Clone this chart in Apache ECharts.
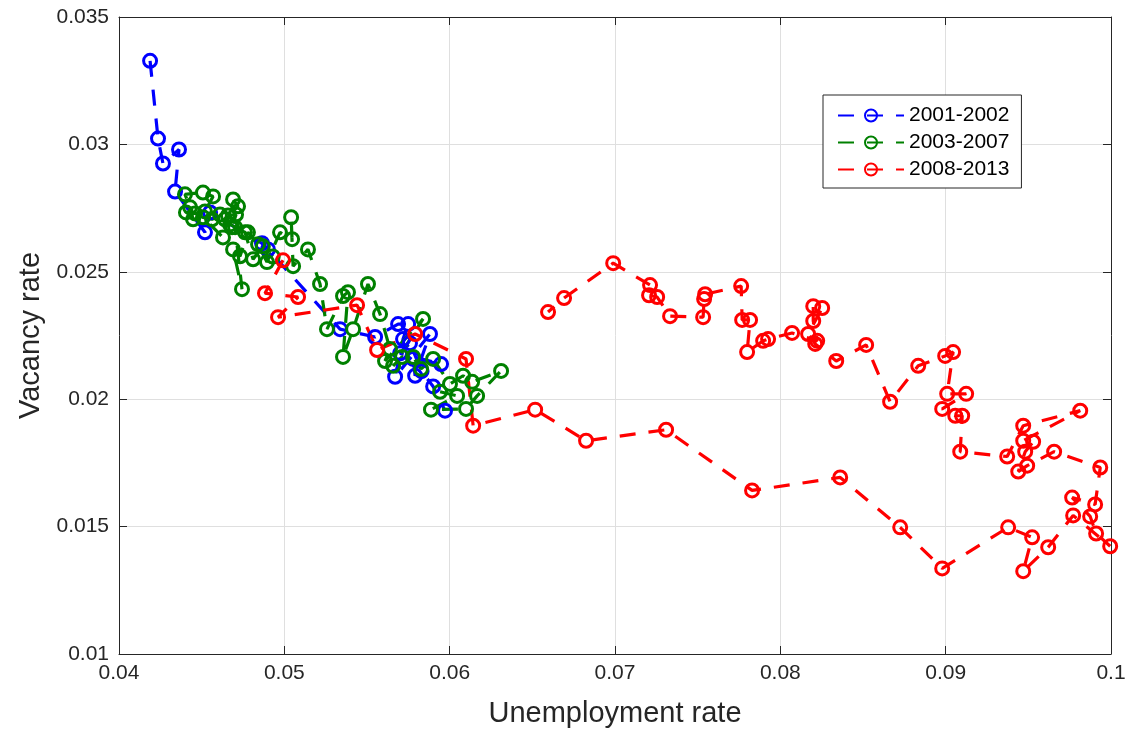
<!DOCTYPE html>
<html>
<head>
<meta charset="utf-8">
<title>Beveridge curve</title>
<script src="https://cdn.jsdelivr.net/npm/echarts@6/dist/echarts.min.js"></script>
<style>
  html, body { margin: 0; padding: 0; background: #fff; }
  #chart { width: 1130px; height: 733px; }
</style>
</head>
<body>
<div id="chart"></div>
<script>
// Monthly unemployment rate (x) and vacancy rate (y), grouped by period.
const periods = ['2001-2002', '2003-2007', '2008-2013'];

const blueU = [0.04188, 0.04236, 0.04266, 0.04363, 0.04339, 0.04520, 0.04551, 0.04865, 0.04901, 0.05337, 0.05549, 0.05688,
               0.05749, 0.05718, 0.05670, 0.05881, 0.05791, 0.05779, 0.05948, 0.05700, 0.05760, 0.05830, 0.05900, 0.05972];
const blueV = [0.03328, 0.03023, 0.02925, 0.02980, 0.02815, 0.02655, 0.02733, 0.02612, 0.02588, 0.02275, 0.02244, 0.02295,
               0.02295, 0.02236, 0.02088, 0.02256, 0.02092, 0.02158, 0.02138, 0.02180, 0.02220, 0.02110, 0.02050, 0.01955];

const greenU = [0.05942, 0.06045, 0.05887, 0.06099, 0.06166, 0.06311, 0.06136, 0.06081, 0.06002, 0.05900, 0.05827, 0.05779,
                0.05712, 0.05658, 0.05839, 0.05609, 0.05639, 0.05579, 0.05506, 0.05416, 0.05355, 0.05385, 0.05355, 0.05258,
                0.05216, 0.05143, 0.05053, 0.05041, 0.05047, 0.04974, 0.04895, 0.04841, 0.04780, 0.04732, 0.04690, 0.04744,
                0.04702, 0.04672, 0.04641, 0.04720, 0.04690, 0.04629, 0.04508, 0.04448, 0.04430, 0.04399, 0.04508, 0.04569,
                0.04520, 0.04460, 0.04405, 0.04563, 0.04611, 0.04659, 0.04708, 0.04684, 0.04762, 0.04811, 0.04870, 0.04930];
const greenV = [0.02029, 0.02013, 0.01959, 0.01962, 0.02013, 0.02111, 0.02068, 0.02092, 0.02060, 0.02158, 0.02119, 0.02166,
                0.02166, 0.02131, 0.02315, 0.02150, 0.02197, 0.02334, 0.02452, 0.02275, 0.02166, 0.02420, 0.02405, 0.02275,
                0.02452, 0.02588, 0.02522, 0.02714, 0.02628, 0.02655, 0.02538, 0.02608, 0.02655, 0.02561, 0.02588, 0.02432,
                0.02675, 0.02686, 0.02706, 0.02757, 0.02784, 0.02635, 0.02714, 0.02706, 0.02753, 0.02804, 0.02811, 0.02796,
                0.02737, 0.02729, 0.02733, 0.02706, 0.02725, 0.02721, 0.02725, 0.02675, 0.02655, 0.02549, 0.02600, 0.02560];

const redU = [0.04992, 0.04883, 0.05083, 0.04962, 0.05440, 0.05561, 0.05791, 0.06099, 0.06142, 0.06517, 0.06825, 0.07309,
              0.07829, 0.08362, 0.08725, 0.08979, 0.09378, 0.09523, 0.09469, 0.09620, 0.09771, 0.09995, 0.09910, 0.09874,
              0.09765, 0.09904, 0.09935, 0.09656, 0.09493, 0.09439, 0.09481, 0.09529, 0.09469, 0.09814, 0.09469, 0.09372,
              0.09088, 0.09100, 0.09058, 0.08979, 0.09124, 0.09009, 0.09045, 0.08997, 0.08834, 0.08664, 0.08519, 0.08338,
              0.08211, 0.08168, 0.08253, 0.08199, 0.08199, 0.08223, 0.08071, 0.07926, 0.07896, 0.07799, 0.07817, 0.07769,
              0.07763, 0.07545, 0.07539, 0.07533, 0.07333, 0.07255, 0.07206, 0.07212, 0.06989, 0.06692, 0.06595];
const redV = [0.02545, 0.02416, 0.02401, 0.02322, 0.02369, 0.02193, 0.02256, 0.02158, 0.01896, 0.01959, 0.01837, 0.01880,
              0.01642, 0.01693, 0.01497, 0.01336, 0.01497, 0.01458, 0.01325, 0.01419, 0.01544, 0.01423, 0.01473, 0.01540,
              0.01614, 0.01587, 0.01732, 0.01794, 0.01739, 0.01716, 0.01794, 0.01833, 0.01837, 0.01955, 0.01896, 0.01775,
              0.01794, 0.01935, 0.01935, 0.01962, 0.02021, 0.02021, 0.02185, 0.02170, 0.02131, 0.01990, 0.02213, 0.02150,
              0.02217, 0.02256, 0.02358, 0.02365, 0.02307, 0.02229, 0.02260, 0.02236, 0.02229, 0.02185, 0.02311, 0.02311,
              0.02444, 0.02412, 0.02393, 0.02322, 0.02326, 0.02401, 0.02408, 0.02448, 0.02534, 0.02397, 0.02342];

const colors = ['#0000ff', '#008000', '#ff0000'];

const xTicks = { min: 0.04, max: 0.1, interval: 0.01 };
const yTicks = { min: 0.01, max: 0.035, interval: 0.005 };

const ink = '#262626';
const font = 'Liberation Sans, Arial, Helvetica, sans-serif';

function pairs(xs, ys) {
  return xs.map((x, i) => [x, ys[i]]);
}

function makeSeries(name, xs, ys, color) {
  return {
    name: name,
    type: 'line',
    data: pairs(xs, ys),
    symbol: 'circle',
    symbolSize: 13,
    showAllSymbol: true,
    animation: false,
    lineStyle: { color: color, width: 3.2, type: [16, 13], cap: 'butt' },
    itemStyle: { color: 'rgba(255,255,255,0)', borderColor: color, borderWidth: 3 },
    emphasis: { disabled: true }
  };
}

const chart = echarts.init(document.getElementById('chart'), null, { renderer: 'canvas' });

const boxAxis = {
  axisLine: { show: true, onZero: false, lineStyle: { color: ink, width: 1 } },
  axisTick: { show: true, inside: true, length: 8, lineStyle: { color: ink, width: 1 } }
};

chart.setOption({
  backgroundColor: '#ffffff',
  animation: false,
  textStyle: { fontFamily: font },
  grid: { left: 119, right: 19, top: 17, bottom: 77, containLabel: false },
  legend: {
    orient: 'vertical',
    left: 823,
    top: 95,
    padding: [10, 12, 8, 14],
    itemGap: 6,
    itemWidth: 66,
    itemHeight: 15,
    borderColor: ink,
    borderWidth: 1,
    backgroundColor: '#ffffff',
    textStyle: { fontSize: 21, color: '#000', fontFamily: font },
    data: periods
  },
  xAxis: [
    Object.assign({
      type: 'value',
      position: 'bottom',
      min: xTicks.min, max: xTicks.max, interval: xTicks.interval,
      name: 'Unemployment rate',
      nameLocation: 'middle',
      nameGap: 45,
      nameTextStyle: { fontSize: 29, color: ink, fontFamily: font },
      axisLabel: { fontSize: 21, color: ink, margin: 9, fontFamily: font },
      splitLine: { show: true, lineStyle: { color: '#dfdfdf', width: 1 } }
    }, boxAxis),
    Object.assign({
      type: 'value',
      position: 'top',
      min: xTicks.min, max: xTicks.max, interval: xTicks.interval,
      axisLabel: { show: false },
      splitLine: { show: false }
    }, boxAxis)
  ],
  yAxis: [
    Object.assign({
      type: 'value',
      position: 'left',
      min: yTicks.min, max: yTicks.max, interval: yTicks.interval,
      name: 'Vacancy rate',
      nameLocation: 'middle',
      nameGap: 67,
      nameTextStyle: { fontSize: 29, color: ink, fontFamily: font },
      axisLabel: { fontSize: 21, color: ink, margin: 10, fontFamily: font },
      splitLine: { show: true, lineStyle: { color: '#dfdfdf', width: 1 } }
    }, boxAxis),
    Object.assign({
      type: 'value',
      position: 'right',
      min: yTicks.min, max: yTicks.max, interval: yTicks.interval,
      axisLabel: { show: false },
      splitLine: { show: false }
    }, boxAxis)
  ],
  series: [
    makeSeries(periods[0], blueU, blueV, colors[0]),
    makeSeries(periods[1], greenU, greenV, colors[1]),
    makeSeries(periods[2], redU, redV, colors[2])
  ]
});
</script>
</body>
</html>
